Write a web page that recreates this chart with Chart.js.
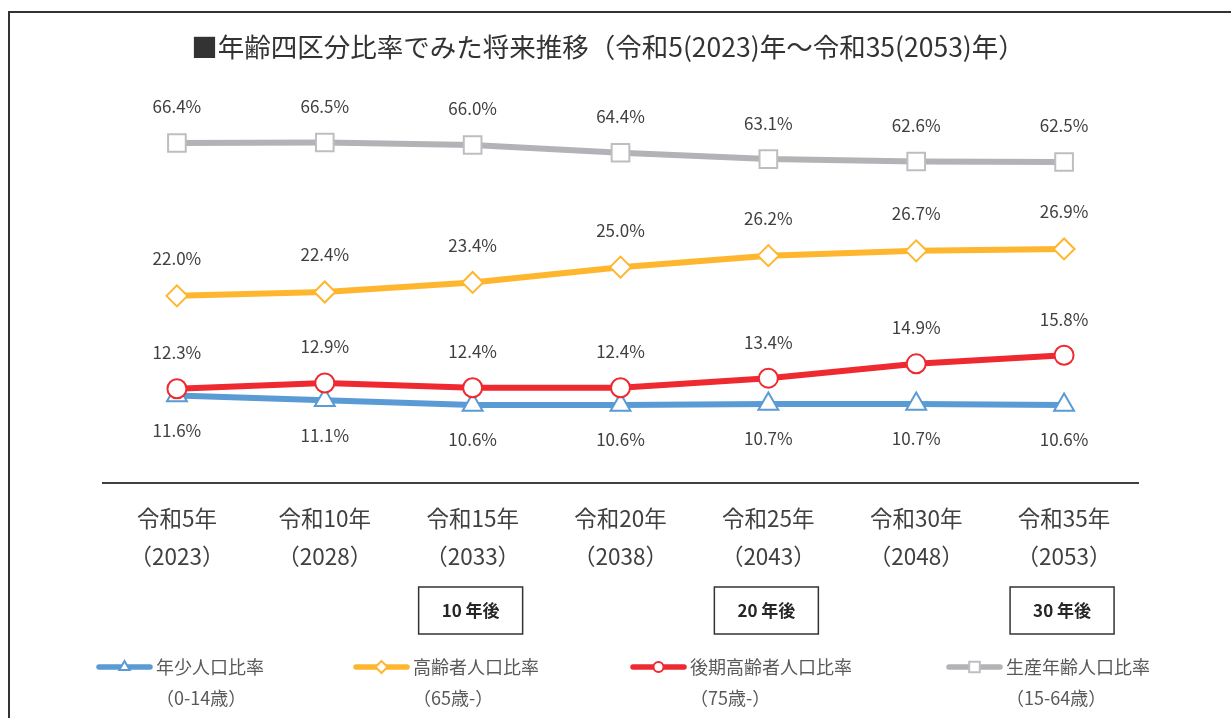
<!DOCTYPE html>
<html lang="ja">
<head>
<meta charset="utf-8">
<title>年齢四区分比率でみた将来推移</title>
<script src="https://cdn.jsdelivr.net/npm/chart.js"></script>
<style>
  html, body { margin: 0; padding: 0; background: #fff; }
  #wrap { position: relative; width: 1231px; height: 718px; }
</style>
</head>
<body>
<div id="wrap"><canvas id="ratio-linechart"></canvas></div>
<script>
const titleText = '■年齢四区分比率でみた将来推移（令和5(2023)年～令和35(2053)年）';
const eraLabels = ['令和5年', '令和10年', '令和15年', '令和20年', '令和25年', '令和30年', '令和35年'];
const yearLabels = ['（2023）', '（2028）', '（2033）', '（2038）', '（2043）', '（2048）', '（2053）'];
const milestones = ['', '', '10 年後', '', '20 年後', '', '30 年後'];

const youthRatio = [11.6, 11.1, 10.6, 10.6, 10.7, 10.7, 10.6];
const elderlyRatio = [22.0, 22.4, 23.4, 25.0, 26.2, 26.7, 26.9];
const lateElderlyRatio = [12.3, 12.9, 12.4, 12.4, 13.4, 14.9, 15.8];
const workingAgeRatio = [66.4, 66.5, 66.0, 64.4, 63.1, 62.6, 62.5];

const seriesNames = ['年少人口比率', '高齢者人口比率', '後期高齢者人口比率', '生産年齢人口比率'];
const ageRanges = ['（0-14歳）', '（65歳-）', '（75歳-）', '（15-64歳）'];

const FONT = '"Noto Sans CJK JP", "Noto Sans", sans-serif';
const TEXT = '#404040';

const BLUE = '#5A9BD5';
const GOLD = '#FFB62F';
const RED = '#EE2A30';
const GRAY = '#B3B3B7';

// legend entries: where the sample line starts and how long it is
const legendSlots = [
  { x: 96, len: 57 },
  { x: 353, len: 57 },
  { x: 630, len: 57 },
  { x: 946, len: 57 },
];

function drawMarker(ctx, style, x, y, radius, color, width) {
  ctx.save();
  ctx.fillStyle = '#fff';
  ctx.strokeStyle = color;
  ctx.lineWidth = width;
  Chart.helpers.drawPoint(ctx, { pointStyle: style, rotation: 0, radius, borderWidth: width }, x, y);
  ctx.restore();
}

const framePlugin = {
  id: 'frame',
  beforeDraw(chart) {
    const { ctx } = chart;
    ctx.save();
    ctx.strokeStyle = '#333';
    ctx.lineWidth = 2;
    ctx.beginPath();
    ctx.moveTo(9, chart.height);
    ctx.lineTo(9, 12);
    ctx.lineTo(chart.width, 12);
    ctx.stroke();

    ctx.fillStyle = '#333';
    ctx.font = `26.5px ${FONT}`;
    ctx.textAlign = 'center';
    ctx.textBaseline = 'middle';
    ctx.fillText(titleText, 608, 47);
    ctx.restore();
  },
};

const valueLabelPlugin = {
  id: 'valueLabels',
  afterDatasetsDraw(chart) {
    const { ctx } = chart;
    ctx.save();
    ctx.font = `17px ${FONT}`;
    ctx.fillStyle = TEXT;
    ctx.textAlign = 'center';
    ctx.textBaseline = 'middle';
    chart.data.datasets.forEach((ds, i) => {
      const meta = chart.getDatasetMeta(i);
      meta.data.forEach((pt, j) => {
        ctx.fillText(ds.data[j].toFixed(1) + '%', pt.x, pt.y + ds.labelOffset);
      });
    });
    ctx.restore();
  },
};

const footerPlugin = {
  id: 'footer',
  afterDraw(chart) {
    const { ctx } = chart;
    const xScale = chart.scales.x;
    ctx.save();

    // milestone boxes under the year labels
    ctx.textAlign = 'center';
    ctx.textBaseline = 'middle';
    milestones.forEach((text, i) => {
      if (!text) return;
      const cx = xScale.getPixelForValue(i) - 2;
      ctx.strokeStyle = '#333';
      ctx.lineWidth = 1.5;
      ctx.strokeRect(cx - 52, 587, 104, 47);
      ctx.fillStyle = '#262626';
      ctx.font = `bold 17px ${FONT}`;
      ctx.fillText(text, cx, 611);
    });

    // legend
    ctx.textAlign = 'left';
    chart.data.datasets.forEach((ds) => {
      const slot = legendSlots[ds.legendIndex];
      const y = 667;
      ctx.strokeStyle = ds.borderColor;
      ctx.lineWidth = 5.5;
      ctx.lineCap = 'round';
      ctx.beginPath();
      ctx.moveTo(slot.x + 3, y);
      ctx.lineTo(slot.x + slot.len - 3, y);
      ctx.stroke();
      drawMarker(ctx, ds.pointStyle, slot.x + slot.len / 2, y, ds.legendRadius, ds.pointBorderColor, 2);

      ctx.fillStyle = '#595959';
      ctx.font = `18px ${FONT}`;
      ctx.fillText(seriesNames[ds.legendIndex], slot.x + slot.len + 3, y);
      ctx.fillText(ageRanges[ds.legendIndex], slot.x + slot.len + 3, 698);
    });
    ctx.restore();
  },
};

const ctx = document.getElementById('ratio-linechart').getContext('2d');
const chart = new Chart(ctx, {
  type: 'line',
  data: {
    labels: eraLabels.map((era, i) => [era, yearLabels[i]]),
    datasets: [
      {
        label: seriesNames[0],
        data: youthRatio,
        yAxisID: 'y',
        borderColor: BLUE,
        pointBorderColor: BLUE,
        pointStyle: 'triangle',
        pointRadius: 11.5,
        legendRadius: 6,
        labelOffset: 35,
        legendIndex: 0,
        order: 3,
      },
      {
        label: seriesNames[2],
        data: lateElderlyRatio,
        yAxisID: 'y',
        borderColor: RED,
        pointBorderColor: RED,
        pointStyle: 'circle',
        pointRadius: 9.5,
        legendRadius: 5,
        labelOffset: -36,
        legendIndex: 2,
        order: 2,
      },
      {
        label: seriesNames[1],
        data: elderlyRatio,
        yAxisID: 'y',
        borderColor: GOLD,
        pointBorderColor: GOLD,
        pointStyle: 'rectRot',
        pointRadius: 10.5,
        legendRadius: 6,
        labelOffset: -37,
        legendIndex: 1,
        order: 1,
      },
      {
        label: seriesNames[3],
        data: workingAgeRatio,
        yAxisID: 'y2',
        borderColor: GRAY,
        pointBorderColor: '#BEBEC2',
        pointStyle: 'rect',
        pointRadius: 12.5,
        legendRadius: 7.5,
        labelOffset: -36,
        legendIndex: 3,
        order: 0,
      },
    ],
  },
  options: {
    responsive: true,
    maintainAspectRatio: false,
    animation: false,
    events: [],
    layout: {
      padding: { top: 80, left: 103, right: 93, bottom: 0 },
    },
    elements: {
      line: { borderWidth: 6, tension: 0, borderCapStyle: 'round' },
      point: { backgroundColor: '#fff', borderWidth: 2 },
    },
    plugins: {
      legend: { display: false },
      title: { display: false },
      tooltip: { enabled: false },
    },
    scales: {
      x: {
        offset: true,
        grid: { display: false, drawTicks: false },
        border: { display: true, color: '#404040', width: 2 },
        ticks: {
          autoSkip: false,
          maxRotation: 0,
          padding: 16,
          color: TEXT,
          font: { family: FONT, size: 22.5, lineHeight: 1.69 },
        },
        afterFit(scale) {
          scale.height = 235;
        },
      },
      y: {
        display: false,
        min: 2.45,
        max: 44.55,
      },
      y2: {
        display: false,
        min: -3.41,
        max: 79.34,
      },
    },
  },
  plugins: [framePlugin, valueLabelPlugin, footerPlugin],
});
</script>
</body>
</html>
